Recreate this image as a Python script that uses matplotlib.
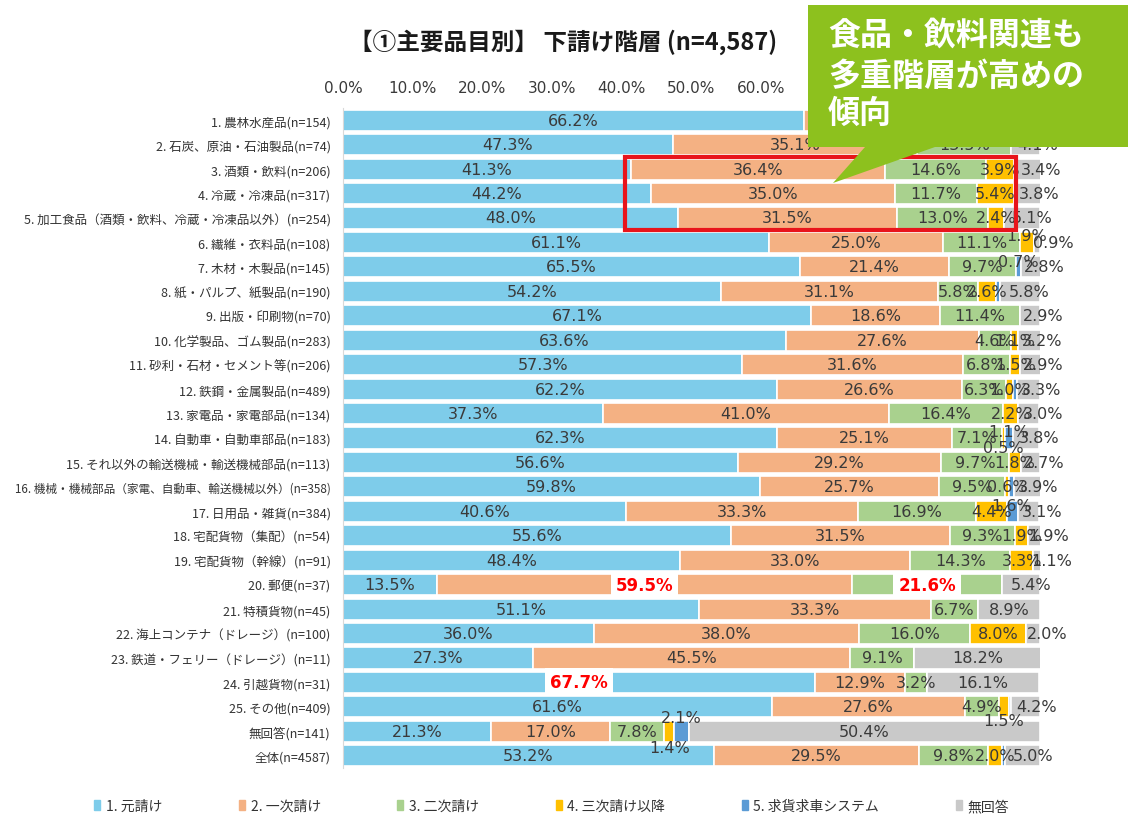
import matplotlib.pyplot as plt
from matplotlib.patches import Polygon, Rectangle, Patch

plt.rcParams['font.family'] = ['Noto Sans CJK JP', 'DejaVu Sans']

categories = [
    "1. 農林水産品(n=154)", "2. 石炭、原油・石油製品(n=74)", "3. 酒類・飲料(n=206)",
    "4. 冷蔵・冷凍品(n=317)", "5. 加工食品（酒類・飲料、冷蔵・冷凍品以外）(n=254)",
    "6. 繊維・衣料品(n=108)", "7. 木材・木製品(n=145)", "8. 紙・パルプ、紙製品(n=190)",
    "9. 出版・印刷物(n=70)", "10. 化学製品、ゴム製品(n=283)", "11. 砂利・石材・セメント等(n=206)",
    "12. 鉄鋼・金属製品(n=489)", "13. 家電品・家電部品(n=134)", "14. 自動車・自動車部品(n=183)",
    "15. それ以外の輸送機械・輸送機械部品(n=113)",
    "16. 機械・機械部品（家電、自動車、輸送機械以外）(n=358)",
    "17. 日用品・雑貨(n=384)", "18. 宅配貨物（集配）(n=54)", "19. 宅配貨物（幹線）(n=91)",
    "20. 郵便(n=37)", "21. 特積貨物(n=45)", "22. 海上コンテナ（ドレージ）(n=100)",
    "23. 鉄道・フェリー（ドレージ）(n=11)", "24. 引越貨物(n=31)", "25. その他(n=409)",
    "無回答(n=141)", "全体(n=4587)",
]
series_names = ["1. 元請け", "2. 一次請け", "3. 二次請け", "4. 三次請け以降",
                "5. 求貨求車システム", "無回答"]
tick_values = [0, 10, 20, 30, 40, 50, 60]

moto = [66.2, 47.3, 41.3, 44.2, 48.0, 61.1, 65.5, 54.2, 67.1, 63.6, 57.3, 62.2, 37.3, 62.3,
        56.6, 59.8, 40.6, 55.6, 48.4, 13.5, 51.1, 36.0, 27.3, 67.7, 61.6, 21.3, 53.2]
ichiji = [24.0, 35.1, 36.4, 35.0, 31.5, 25.0, 21.4, 31.1, 18.6, 27.6, 31.6, 26.6, 41.0, 25.1,
          29.2, 25.7, 33.3, 31.5, 33.0, 59.5, 33.3, 38.0, 45.5, 12.9, 27.6, 17.0, 29.5]
niji = [5.2, 13.5, 14.6, 11.7, 13.0, 11.1, 9.7, 5.8, 11.4, 4.6, 6.8, 6.3, 16.4, 7.1,
        9.7, 9.5, 16.9, 9.3, 14.3, 21.6, 6.7, 16.0, 9.1, 3.2, 4.9, 7.8, 9.8]
sanji = [0.6, 0.0, 3.9, 5.4, 2.4, 1.9, 0.0, 2.6, 0.0, 1.1, 1.5, 1.0, 2.2, 0.5,
         1.8, 0.6, 4.4, 1.9, 3.3, 0.0, 0.0, 8.0, 0.0, 0.0, 1.5, 1.4, 2.0]
kyuka = [0.0, 0.0, 0.5, 0.0, 0.0, 0.0, 0.7, 0.5, 0.0, 0.0, 0.0, 0.6, 0.0, 1.1,
         0.0, 0.6, 1.6, 0.0, 0.0, 0.0, 0.0, 0.0, 0.0, 0.0, 0.2, 2.1, 0.5]
mukaito = [3.9, 4.1, 3.4, 3.8, 5.1, 0.9, 2.8, 5.8, 2.9, 3.2, 2.9, 3.3, 3.0, 3.8,
           2.7, 3.9, 3.1, 1.9, 1.1, 5.4, 8.9, 2.0, 18.2, 16.1, 4.2, 50.4, 5.0]

series = [moto, ichiji, niji, sanji, kyuka, mukaito]
colors = ['#7ECCEA', '#F4B183', '#A9D18E', '#FFC000', '#5B9BD5', '#C9C9C9']

# labels highlighted in red (row, series)
highlight = [(19, 1), (19, 2), (23, 0)]
# vertical nudges of crowded labels, in points (positive = down)
nudge = {(5, 3): -5, (6, 4): -4, (13, 3): 7, (13, 4): -5, (16, 4): -4,
         (24, 3): 10, (25, 3): 12, (25, 4): -10}

W, H = 1128, 820
fig = plt.figure(figsize=(W / 100, H / 100), dpi=100)
ax = fig.add_axes([343 / W, 1 - 769 / H, 697 / W, 660 / H])

ypos = list(range(len(categories)))
left = [0.0] * len(categories)
for k, (vals, col) in enumerate(zip(series, colors)):
    ax.barh(ypos, vals, left=left, height=0.86, color=col, edgecolor='white', linewidth=1.2)
    for i, v in enumerate(vals):
        if v <= 0 or (k == 4 and v < 0.7):
            continue
        x = left[i] + v / 2
        if k == 5 and v < 6.5:
            x = 102.5 - 0.7 * v
        txt = f"{v:.1f}%"
        if (i, k) in highlight:
            ax.text(x, i, txt, ha='center', va='center', fontsize=12, fontweight='bold',
                    color='#FF0000', family='DejaVu Sans',
                    bbox=dict(boxstyle='square,pad=0.3', fc='white', ec='none'))
        else:
            ax.annotate(txt, (x, i), xytext=(0, -nudge.get((i, k), 0)),
                        textcoords='offset points', ha='center', va='center',
                        fontsize=11.5, color='#3A3A3A', family='DejaVu Sans',
                        annotation_clip=False)
    left = [a + b for a, b in zip(left, vals)]

ax.set_xlim(0, 100)
ax.set_ylim(len(categories) - 0.5, -0.5)
ax.xaxis.tick_top()
ax.set_xticks(tick_values)
ax.set_xticklabels([f"{t:.1f}%" for t in tick_values], family='DejaVu Sans',
                   fontsize=11, color='#3A3A3A')
ax.set_yticks(ypos)
ax.set_yticklabels(categories, fontsize=9, color='#333333')
# the longest label is set a little smaller so it stays inside the picture
ax.get_yticklabels()[15].set_fontsize(8.4)
ax.tick_params(axis='x', length=0, pad=9)
ax.tick_params(axis='y', length=0, pad=9)
for s in ['top', 'right', 'bottom']:
    ax.spines[s].set_visible(False)
ax.spines['left'].set_color('#D9D9D9')

# red frame around food rows
rows = [2, 3, 4]
x0 = min(moto[r] for r in rows) - 0.9
x1 = max(moto[r] + ichiji[r] + niji[r] + sanji[r] for r in rows) + 0.3
ax.add_patch(Rectangle((x0, rows[0] - 0.5), x1 - x0, len(rows), fill=False,
                       ec='#E8141B', lw=3, clip_on=False, zorder=5))

fig.text(563 / W, 1 - 42 / H, "【①主要品目別】 下請け階層 (n=4,587)", ha='center',
         va='center', fontsize=17, fontweight='bold', color='#1A1A1A')


def px(x, y):
    return (x / W, 1 - y / H)


green = '#8DC11E'
fig.add_artist(Polygon([px(808, 6), px(1128, 6), px(1128, 148), px(935, 148),
                        px(833, 184), px(865, 148), px(808, 148)],
                       closed=True, transform=fig.transFigure, fc=green, ec='none',
                       zorder=10))
for line, yy in zip(["食品・飲料関連も", "多重階層が高めの", "傾向"], [36, 77, 114]):
    fig.text(828 / W, 1 - yy / H, line, ha='left', va='center', fontsize=23,
             fontweight='bold', color='white', zorder=11)

handles = [Patch(color=c) for c in colors]
fig.legend(handles, series_names, loc='center', bbox_to_anchor=(0.489, 1 - 807 / H),
           ncol=6, frameon=False, fontsize=10, handlelength=0.45, handleheight=0.8,
           handletextpad=0.4, columnspacing=5.5, labelcolor='#333333')

fig.savefig("out.png", dpi=100)
